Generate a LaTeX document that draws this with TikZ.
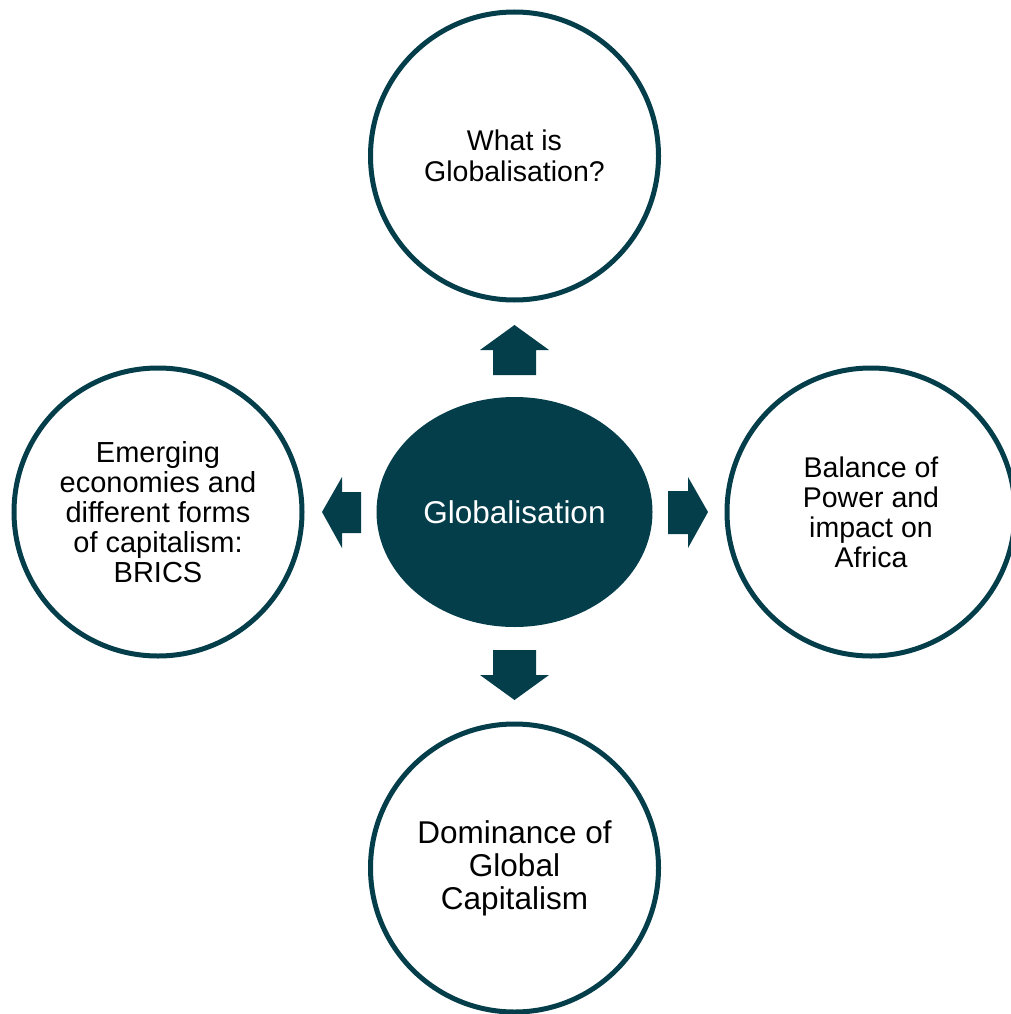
\documentclass[tikz,border=0pt]{standalone}
\usepackage{fontspec}
\setmainfont{Liberation Sans}
\usetikzlibrary{shapes.geometric}
\definecolor{darkteal}{RGB}{4,62,75}
\begin{document}
\begin{tikzpicture}[x=1pt,y=-1pt,
  ring/.style={circle,draw=darkteal,line width=5pt,fill=white,minimum size=288pt,inner sep=0pt,align=center,text=black},
  hub/.style={ellipse,fill=darkteal,draw=none,text=white,minimum width=276pt,minimum height=230pt,inner sep=0pt},
  arrowshape/.style={fill=darkteal,draw=none}]
\useasboundingbox (0,0) rectangle (1011,1014);
\clip (0,0) rectangle (1011,1014);
\node[hub,font={\fontsize{31.5}{34}\selectfont}] (hub) at (514.5,512) {Globalisation};
\node[ring,font={\fontsize{28.5}{31}\selectfont}] (top) at (514.5,156) {What is\\Globalisation?};
\node[ring,font={\fontsize{29}{30}\selectfont}] (left) at (158,512) {\raisebox{0pt}{}Emerging\\economies and\\different forms\\of capitalism:\\BRICS};
\node[ring,font={\fontsize{28.5}{30}\selectfont}] (right) at (871,512) {Balance of\\Power and\\impact on\\Africa};
\node[ring,font={\fontsize{31.5}{33}\selectfont}] (bottom) at (514.5,868) {Dominance of\\Global\\Capitalism};
% up arrow
\fill[arrowshape] (493,375) -- (493,350) -- (480,350) -- (514.5,325) -- (549,350) -- (536,350) -- (536,375) -- cycle;
% down arrow
\fill[arrowshape] (493,650) -- (493,675) -- (480,675) -- (514.5,700) -- (549,675) -- (536,675) -- (536,650) -- cycle;
% right arrow
\fill[arrowshape] (668,491) -- (688,491) -- (688,477) -- (708,512) -- (688,548) -- (688,534) -- (668,534) -- cycle;
% left arrow
\fill[arrowshape] (361,492) -- (342,492) -- (342,477) -- (322,512) -- (342,548) -- (342,533) -- (361,533) -- cycle;
\end{tikzpicture}
\end{document}
